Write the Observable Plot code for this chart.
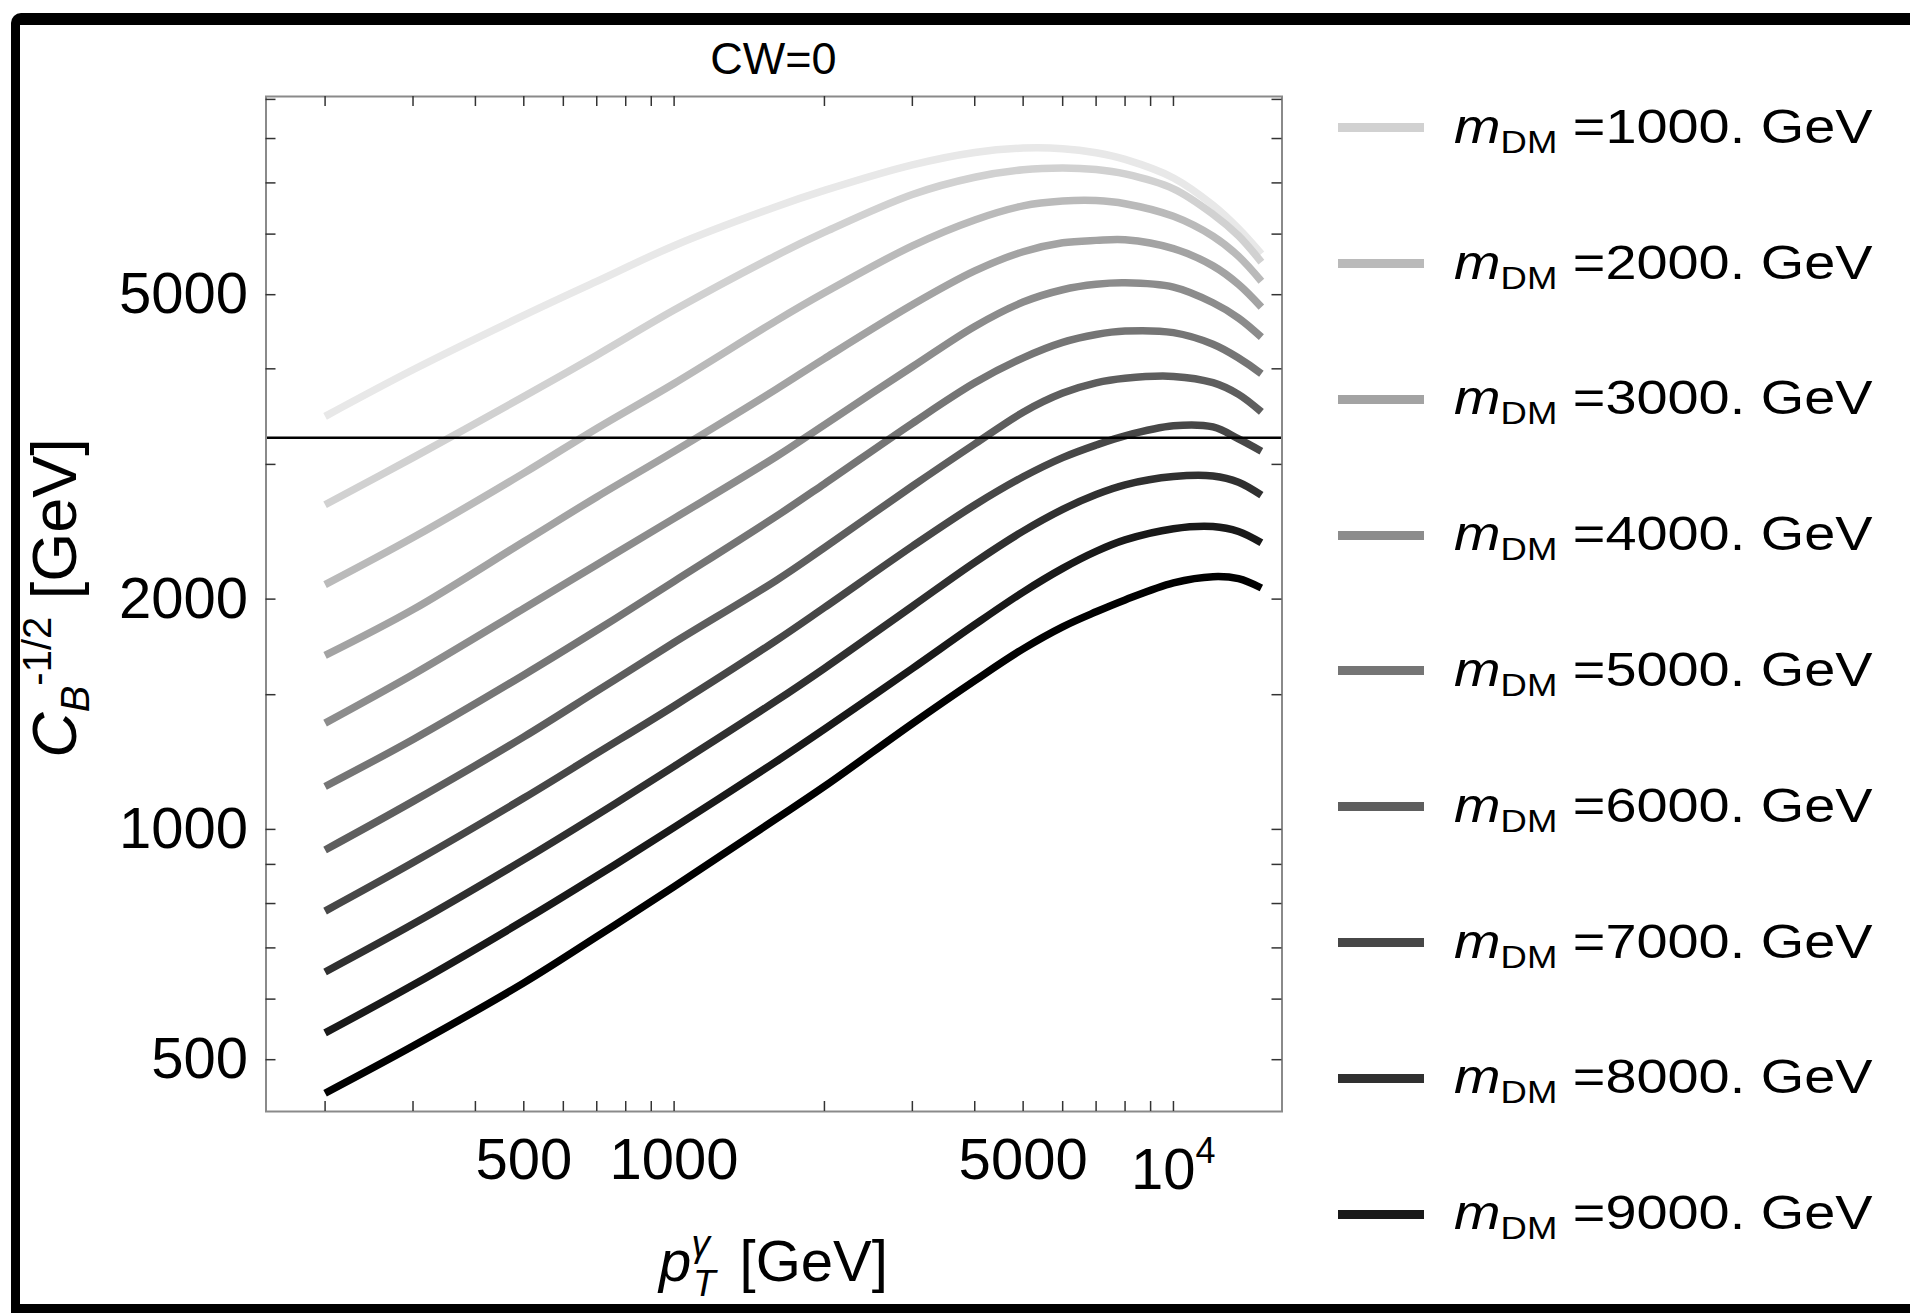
<!DOCTYPE html>
<html>
<head>
<meta charset="utf-8">
<script src="https://cdn.jsdelivr.net/npm/d3@7"></script>
<script src="https://cdn.jsdelivr.net/npm/@observablehq/plot@0.6"></script>
<style>
html, body { margin: 0; padding: 0; background: #fff; }
body { width: 1910px; height: 1313px; position: relative; overflow: hidden;
       font-family: "Liberation Sans", Arial, Helvetica, sans-serif; color: #000; }
#frame { position: absolute; left: 11px; top: 13px; width: 2000px; height: 1300px; box-sizing: border-box;
         border-left: 9px solid #000; border-top: 12px solid #000; border-bottom: 9px solid #000;
         border-top-left-radius: 10px; z-index: 5; pointer-events: none; }
#title { position: absolute; left: 0; width: 1547px; top: 36px; text-align: center;
         font-size: 45px; line-height: 45px; white-space: nowrap; }
#chart { position: absolute; left: 0; top: 80px; }
#ylabel { position: absolute; left: 58px; top: 598px; transform: translate(-50%, -50%) rotate(-90deg);
          font-size: 63px; line-height: 63px; white-space: nowrap; }
#ylabel .s { font-size: 40px; position: relative; }
#xlabel { position: absolute; left: 0; width: 1547px; top: 1232px; text-align: center;
          font-size: 58px; line-height: 58px; white-space: nowrap; }
#xlabel .s { font-size: 37px; position: relative; font-style: italic; }
.lg-sw { position: absolute; left: 1338px; width: 86px; height: 9px; }
.lg-tx { position: absolute; left: 1454px; font-size: 49px; line-height: 49px; white-space: nowrap;
         transform: scaleX(1.14); transform-origin: 0 50%; }
.lg-tx .sub { font-size: 32px; position: relative; top: 10px; }
</style>
</head>
<body>
<div id="title">CW=0</div>
<div id="chart"></div>
<div id="ylabel"><i>C</i><span class="s" style="top:13px;font-style:italic">B</span><span class="s" style="top:-25px">-1/2</span> [GeV]</div>
<div id="xlabel"><i>p</i><span class="s" style="top:-25px">γ</span><span class="s" style="top:15px;margin-left:-17px;margin-right:8px">T</span> [GeV]</div>
<div id="legend"></div>
<div id="frame"></div>
<script>
// ---------------- data ----------------
const pT = [200, 300, 500, 700, 1000, 1600, 2000, 3000, 4000, 5000, 6000, 7000, 8000, 10000, 12000, 13500, 15000];

// C_B^{-1/2} [GeV] for each dark-matter mass (lightest to darkest curve)
const cB_m0     = [3467, 3989, 4697, 5204, 5794, 6515, 6843, 7390, 7671, 7774, 7760, 7664, 7512, 7105, 6546, 6100, 5653];
const cB_m1000  = [2657, 3062, 3680, 4168, 4774, 5625, 6035, 6760, 7120, 7282, 7322, 7288, 7192, 6877, 6371, 5970, 5515];
const cB_m2000  = [2089, 2407, 2922, 3343, 3828, 4621, 5028, 5792, 6262, 6532, 6627, 6637, 6575, 6330, 5961, 5612, 5207];
const cB_m3000  = [1688, 1938, 2377, 2720, 3120, 3760, 4125, 4850, 5370, 5690, 5845, 5888, 5900, 5745, 5453, 5158, 4817];
const cB_m4000  = [1377, 1594, 1944, 2218, 2550, 3070, 3380, 4025, 4545, 4890, 5075, 5158, 5181, 5115, 4880, 4660, 4400];
const cB_m5000  = [1138, 1311, 1592, 1821, 2110, 2565, 2830, 3395, 3835, 4135, 4332, 4436, 4482, 4460, 4307, 4133, 3942];
const cB_m6000  = [ 940, 1088, 1321, 1516, 1755, 2115, 2335, 2810, 3190, 3510, 3718, 3835, 3888, 3910, 3837, 3704, 3513];
const cB_m7000  = [ 782,  905, 1099, 1257, 1450, 1765, 1950, 2345, 2655, 2890, 3062, 3180, 3270, 3370, 3358, 3240, 3122];
const cB_m8000  = [ 651,  752,  913, 1044, 1209, 1472, 1624, 1957, 2234, 2454, 2620, 2740, 2821, 2892, 2897, 2844, 2735];
const cB_m9000  = [ 542,  626,  760,  869, 1006, 1226, 1352, 1623, 1852, 2043, 2194, 2309, 2390, 2472, 2488, 2451, 2369];
const cB_m10000 = [ 452,  521,  630,  724,  842, 1032, 1138, 1375, 1565, 1722, 1840, 1925, 1995, 2100, 2140, 2127, 2068];

const mDM = [0, 1000, 2000, 3000, 4000, 5000, 6000, 7000, 8000, 9000, 10000];
const curves = [cB_m0, cB_m1000, cB_m2000, cB_m3000, cB_m4000, cB_m5000, cB_m6000, cB_m7000, cB_m8000, cB_m9000, cB_m10000];

const legendMasses = [1000, 2000, 3000, 4000, 5000, 6000, 7000, 8000, 9000];

const cutValue = 3250;

const xLabelTicks = [500, 1000, 5000];
const xPowerTick = [10000];
const xMinor = [200, 300, 400, 600, 700, 800, 900, 2000, 3000, 4000, 6000, 7000, 8000, 9000];
const yMajor = [500, 1000, 2000, 5000];
const yMinor = [600, 700, 800, 900, 1500, 3000, 4000, 6000, 7000, 8000, 9000];

// ---------------- styling ----------------
const greys = ["#e8e8e8", "#d1d1d1", "#bababa", "#a3a3a3", "#8c8c8c", "#757575",
               "#5e5e5e", "#474747", "#303030", "#191919", "#000000"];

const rows = [];
curves.forEach((vals, i) => vals.forEach((v, j) => rows.push({m: mDM[i], pT: pT[j], v})));

const W = 1300, H = 1233;
const mL = 265.5, mR = 18.5, mT = 16, mB = 202;
const iW = W - mL - mR, iH = H - mT - mB;
const tk = 10;
const xAll = xLabelTicks.concat(xPowerTick, xMinor);
const yAll = yMajor.concat(yMinor);

const chart = Plot.plot({
  width: W, height: H,
  marginLeft: mL, marginRight: mR, marginTop: mT, marginBottom: mB,
  style: {background: "transparent", fontFamily: "'Liberation Sans', Arial, sans-serif", color: "#000"},
  x: {type: "log", domain: [152.3, 16496], label: null},
  y: {type: "log", domain: [427.8, 9079], label: null},
  color: {domain: mDM, range: greys},
  marks: [
    Plot.line(rows, {x: "pT", y: "v", z: "m", stroke: "m", strokeWidth: 7.5,
                     curve: "catmull-rom", strokeLinecap: "butt", strokeLinejoin: "round"}),
    Plot.ruleY([cutValue], {stroke: "#000", strokeWidth: 2.5}),
    Plot.frame({stroke: "#8a8a8a", strokeWidth: 2}),
    Plot.tickX(xAll, {x: d => d, insetTop: iH - tk, stroke: "#333", strokeWidth: 1.5}),
    Plot.tickX(xAll, {x: d => d, insetBottom: iH - tk, stroke: "#333", strokeWidth: 1.5}),
    Plot.tickY(yAll, {y: d => d, insetRight: iW - tk, stroke: "#333", strokeWidth: 1.5}),
    Plot.tickY(yAll, {y: d => d, insetLeft: iW - tk, stroke: "#333", strokeWidth: 1.5}),
    Plot.axisX(xLabelTicks, {tickSize: 0, tickPadding: 26, fontSize: 58, label: null,
                             tickFormat: d => String(d)}),
    Plot.text(xPowerTick, {x: d => d, frameAnchor: "bottom", text: () => "10", textAnchor: "end",
                           lineAnchor: "top", dx: 22, dy: 36, fontSize: 58}),
    Plot.text(xPowerTick, {x: d => d, frameAnchor: "bottom", text: () => "4", textAnchor: "start",
                           lineAnchor: "top", dx: 22, dy: 26, fontSize: 36}),
    Plot.axisY(yMajor, {tickSize: 0, tickPadding: 18, fontSize: 58, label: null,
                        tickFormat: d => String(d)})
  ]
});
document.getElementById("chart").appendChild(chart);

// ---------------- legend ----------------
const lg = document.getElementById("legend");
legendMasses.forEach((m, k) => {
  const cy = 127.7 + k * 135.8;
  const sw = document.createElement("div");
  sw.className = "lg-sw";
  sw.style.top = (cy - 4.5) + "px";
  sw.style.background = greys[mDM.indexOf(m)];
  lg.appendChild(sw);
  const tx = document.createElement("div");
  tx.className = "lg-tx";
  tx.style.top = (cy + 15.6 - 41.5) + "px";
  tx.innerHTML = '<i>m</i><span class="sub">DM</span> =' + m + '. GeV';
  lg.appendChild(tx);
});
</script>
</body>
</html>
